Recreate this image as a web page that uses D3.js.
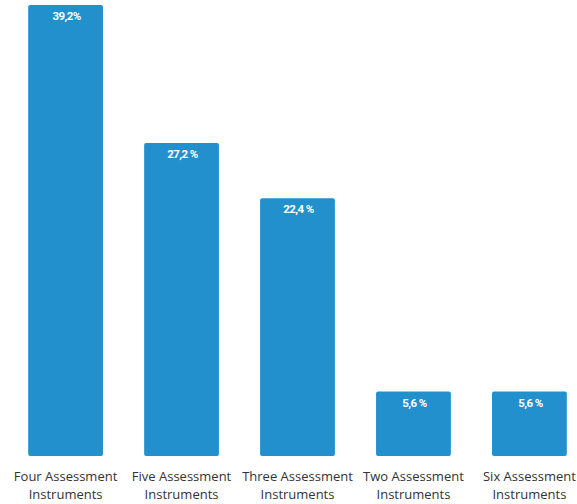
<!DOCTYPE html>
<html>
<head>
<meta charset="utf-8">
<script src="https://cdn.jsdelivr.net/npm/d3@7"></script>
<style>
  body { margin: 0; background: #fff; }
  svg { display: block; }
  .val { font-family: Roboto, sans-serif; font-weight: bold; font-size: 11.5px; fill: #fff; letter-spacing: -0.6px; }
  .cat { font-family: "Open Sans", sans-serif; font-size: 13px; fill: #333; }
</style>
</head>
<body>
<svg id="svg1" width="577" height="504"></svg>
<script>
var categories = ["Four Assessment Instruments", "Five Assessment Instruments", "Three Assessment Instruments", "Two Assessment Instruments", "Six Assessment Instruments"];
var values = [39.2, 27.2, 22.4, 5.6, 5.6];
var valueLabels = ["39,2%", "27,2 %", "22,4 %", "5,6 %", "5,6 %"];

var width = 577;
var height = 504;
var bottom = 456;

var svg = d3.select("#svg1");

var scaleX = d3.scaleBand()
                .domain(categories)
                .range([5, 590])
                .paddingInner(0.355)
                .paddingOuter(0.2);

var scaleY = d3.scaleLinear()
                .domain([0, d3.max(values)])
                .range([bottom, 5]);

var data = categories.map(function(c, i) {
  return { cat: c, value: values[i], label: valueLabels[i] };
});

svg.selectAll(".bar")
    .data(data)
    .enter()
    .append("rect")
      .attr("class", "bar")
      .attr("x", function(d) { return scaleX(d.cat); })
      .attr("y", function(d) { return scaleY(d.value); })
      .attr("width", scaleX.bandwidth())
      .attr("height", function(d) { return bottom - scaleY(d.value); })
      .attr("rx", 2)
      .attr("ry", 2)
      .attr("fill", "#2190cd");

svg.selectAll(".val")
    .data(data)
    .enter()
    .append("text")
      .attr("class", "val")
      .attr("x", function(d) { return scaleX(d.cat) + scaleX.bandwidth() / 2 + 1; })
      .attr("y", function(d) { return scaleY(d.value) + 15; })
      .attr("text-anchor", "middle")
      .text(function(d) { return d.label; });

// category labels on two lines
var cats = svg.selectAll(".cat")
    .data(data)
    .enter()
    .append("text")
      .attr("class", "cat")
      .attr("text-anchor", "middle")
      .attr("transform", function(d) { return "translate(" + (scaleX(d.cat) + scaleX.bandwidth() / 2) + ",481)"; });

cats.append("tspan")
    .attr("x", 0)
    .text(function(d) { return d.cat.replace(" Instruments", ""); });

cats.append("tspan")
    .attr("x", 0)
    .attr("dy", 18)
    .text("Instruments");
</script>
</body>
</html>
